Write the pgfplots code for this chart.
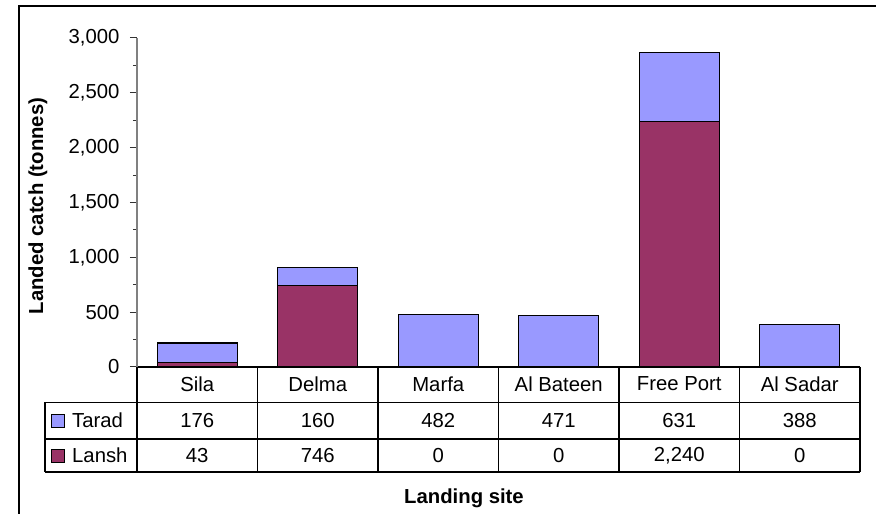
\documentclass[border=0pt]{standalone}
\usepackage{pgfplots}
\pgfplotsset{compat=1.18}
\usepackage{fontspec}
\setmainfont{Liberation Sans}
\definecolor{tarad}{RGB}{153,153,255}
\definecolor{lansh}{RGB}{153,51,102}
\begin{document}
\begin{tikzpicture}[x=1pt,y=1pt,font=\fontsize{20.3}{24}\selectfont]
\path[use as bounding box] (0,0) rectangle (876,514);
\draw[line width=1.3pt] (19,0) -- (19,508) -- (876,508);
\begin{axis}[
  at={(137pt,147pt)}, anchor=south west,
  scale only axis, width=723pt, height=329pt,
  xmin=-0.5, xmax=5.5, ymin=0, ymax=3000,
  ybar stacked, bar width=0.664,
  axis x line=bottom, axis y line=left,
  x axis line style={-, black, line width=1.1pt},
  y axis line style={-, gray, line width=1.1pt},
  xtick=\empty,
  ytick={0,500,...,3000}, minor ytick={250,750,...,2750},
  tick align=outside, major tick length=7pt, minor tick length=4pt,
  ytick style={black!80, line width=1pt},
  yticklabel style={font=\fontsize{20.3}{24}\selectfont, xshift=-7pt, /pgf/number format/.cd, fixed, 1000 sep={,}, assume math mode=true},
  clip=false,
]
\addplot[fill=lansh, draw=black, line width=1.1pt] coordinates {(0,43) (1,746) (2,0) (3,0) (4,2240) (5,0)};
\addplot[fill=tarad, draw=black, line width=1.1pt] coordinates {(0,176) (1,160) (2,482) (3,471) (4,631) (5,388)};
\end{axis}
% data table
\begin{scope}[line width=1.1pt]
\draw (45,111.5) -- (860,111.5);
\draw (45,75) -- (860,75);
\draw (45,42) -- (860,42);
\draw (45,111.5) -- (45,42);
\draw (137,147) -- (137,42);
\foreach \x in {257.5,378,498.5,619,739.5,860} \draw (\x,147) -- (\x,42);
\end{scope}
\foreach \x/\t in {197.25/Sila,317.75/Delma,438.25/Marfa,558.75/Al Bateen,679.25/Free Port,799.75/Al Sadar}
  \node at (\x,130) {\t};
\foreach \x/\a/\b in {197.25/176/43,317.75/160/746,438.25/482/0,558.75/471/0,679.25/631/{2,240},799.75/388/0}{
  \node at (\x,93.5) {\a};
  \node at (\x,58.5) {\b};
}
\filldraw[fill=tarad, draw=black, line width=0.9pt] (51,87) rectangle (64,100);
\node[anchor=west, inner sep=0pt] at (72,93.5) {Tarad};
\filldraw[fill=lansh, draw=black, line width=0.9pt] (51,52) rectangle (64,65);
\node[anchor=west, inner sep=0pt] at (72,58.5) {Lansh};
\node[font=\fontsize{20.3}{24}\selectfont\bfseries] at (464,16) {Landing site};
\node[font=\fontsize{20.3}{24}\selectfont\bfseries, rotate=90] at (38,308) {Landed catch (tonnes)};
\end{tikzpicture}
\end{document}
